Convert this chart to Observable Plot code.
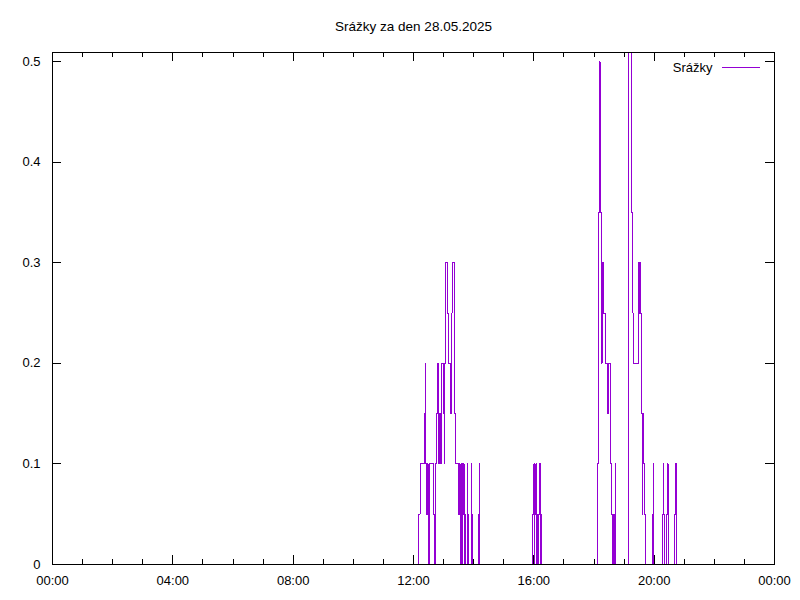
<!DOCTYPE html>
<html><head><meta charset="utf-8">
<script src="https://cdn.jsdelivr.net/npm/d3@7"></script>
<script src="https://cdn.jsdelivr.net/npm/@observablehq/plot@0.6"></script>
<style>body{margin:0;background:#fff}</style>
</head><body><div id="chart"></div>
<script>
const title = "Srážky za den 28.05.2025";
const seriesName = "Srážky";
const day = [2025, 4, 28];

// step points: time (HH:MM) and value holding until the next time
const times = [
"00:00",
"12:10","12:13","12:21","12:23","12:24","12:25","12:26","12:27","12:28","12:29",
"12:31","12:40","12:42","12:43","12:44","12:46","12:48","12:50","12:51","12:52",
"12:53","12:54","12:56","12:59","13:00","13:01","13:02","13:03","13:07","13:09",
"13:14","13:16","13:17","13:21","13:22","13:24","13:29","13:30","13:31","13:32",
"13:33","13:35","13:36","13:37","13:38","13:39","13:40","13:41","13:43","13:44",
"13:47","13:48","13:49","13:50","13:55","13:56","13:57","14:10","14:11","14:12",
"15:58","16:00","16:01","16:02","16:04","16:05","16:07","16:09","16:10","16:11",
"16:13","16:15","16:16",
"18:07","18:08","18:11","18:12","18:13","18:14","18:15","18:16","18:17","18:18",
"18:19","18:22","18:26","18:27","18:28","18:29","18:32","18:33","18:35","18:36",
"18:38","18:39","18:41","18:42","18:43",
"19:09","19:14","19:16","19:17","19:18","19:29","19:30","19:31","19:32","19:34",
"19:35","19:36","19:37","19:39","19:41","19:43",
"19:56","19:58","19:59","20:17","20:18","20:19","20:20","20:25","20:27","20:28",
"20:29","20:41","20:43","20:44","20:45","23:59"
];
const values = [
0,
0.05,0.1,0.15,0.2,0.1,0.05,0.1,0.05,0.1,0,
0.1,0.05,0,0.05,0.1,0.15,0.2,0.1,0.15,0.1,
0.15,0.1,0.2,0.15,0.2,0.1,0.2,0.3,0.25,0.2,
0.15,0.25,0.3,0.25,0.15,0.1,0.05,0.1,0.05,0.1,
0,0.05,0.1,0,0.1,0.05,0.1,0,0.05,0,
0.1,0,0.05,0,0.1,0.05,0,0.05,0.1,0,
0.05,0.1,0,0.05,0.1,0,0.05,0,0.05,0.1,
0,0.05,0,
0.1,0.35,0.5,0.45,0.35,0.3,0.2,0.3,0.25,0.3,
0.25,0.2,0.15,0.2,0.15,0.2,0.15,0.1,0.05,0,
0.05,0,0.05,0.1,0,
0.51,0.35,0.3,0.25,0.2,0.3,0.25,0.3,0.25,0.2,
0.15,0.05,0.15,0.1,0.05,0,
0.05,0.1,0,0.05,0.1,0.05,0,0.05,0.1,0.05,
0,0.05,0.1,0.05,0,0
];

const majorHours = [0, 4, 8, 12, 16, 20, 24];
const minorHours = d3.range(0, 25).filter(h => h % 4 !== 0);
const yTicks = [0, 0.1, 0.2, 0.3, 0.4, 0.5];
const yMax = 0.509;

const toDate = (s) => { const [h, m] = s.split(":").map(Number); return new Date(Date.UTC(day[0], day[1], day[2], h, m)); };
const hourDate = (h) => new Date(Date.UTC(day[0], day[1], day[2], h, 0));
const data = times.map((t, i) => ({date: toDate(t), value: values[i]}));
const majorX = majorHours.map(hourDate);
const minorX = minorHours.map(hourDate);

const W = 800, H = 600, mL = 52, mR = 26, mT = 52, mB = 36;
const fw = W - mL - mR, fh = H - mT - mB;
const major = 9, minor = 5;
const color = "#9400d3";

const chart = Plot.plot({
  width: W, height: H,
  marginLeft: mL, marginRight: mR, marginTop: mT, marginBottom: mB,
  style: {fontFamily: "'Liberation Sans', Arial, sans-serif", fontSize: "13px", background: "white", color: "black"},
  x: {type: "utc", domain: [hourDate(0), hourDate(24)]},
  y: {domain: [0, yMax]},
  marks: [
    Plot.axisX({ticks: majorX, tickFormat: d3.utcFormat("%H:%M"), tickSize: 0, tickPadding: 11, label: null, fontSize: 13}),
    Plot.axisY({ticks: yTicks, tickFormat: d => d === 0 ? "0" : d.toFixed(1), tickSize: 0, tickPadding: 12, label: null, fontSize: 13}),
    Plot.line(data, {x: "date", y: "value", curve: "step-after", stroke: color, strokeWidth: 1, shapeRendering: "crispEdges", clip: true}),
    // inward ticks on all four sides
    Plot.ruleX(majorX, {insetTop: fh - major, stroke: "black", shapeRendering: "crispEdges"}),
    Plot.ruleX(majorX, {insetBottom: fh - major, stroke: "black", shapeRendering: "crispEdges"}),
    Plot.ruleX(minorX, {insetTop: fh - minor, stroke: "black", shapeRendering: "crispEdges"}),
    Plot.ruleX(minorX, {insetBottom: fh - minor, stroke: "black", shapeRendering: "crispEdges"}),
    Plot.ruleY(yTicks, {insetRight: fw - major, stroke: "black", shapeRendering: "crispEdges"}),
    Plot.ruleY(yTicks, {insetLeft: fw - major, stroke: "black", shapeRendering: "crispEdges"}),
    Plot.frame({stroke: "black", shapeRendering: "crispEdges"}),
    // title
    Plot.text([title], {frameAnchor: "top", dy: -26, lineAnchor: "middle", fontSize: 13.5, fill: "black"}),
    // legend
    Plot.text([seriesName], {frameAnchor: "top-right", dx: -62, dy: 15, textAnchor: "end", lineAnchor: "middle", fontSize: 13, fill: "black"}),
    Plot.ruleY([yMax], {insetLeft: 670, insetRight: 14, dy: 15, stroke: color, strokeWidth: 1, shapeRendering: "crispEdges"})
  ]
});
document.getElementById("chart").appendChild(chart);
</script>
</body></html>
